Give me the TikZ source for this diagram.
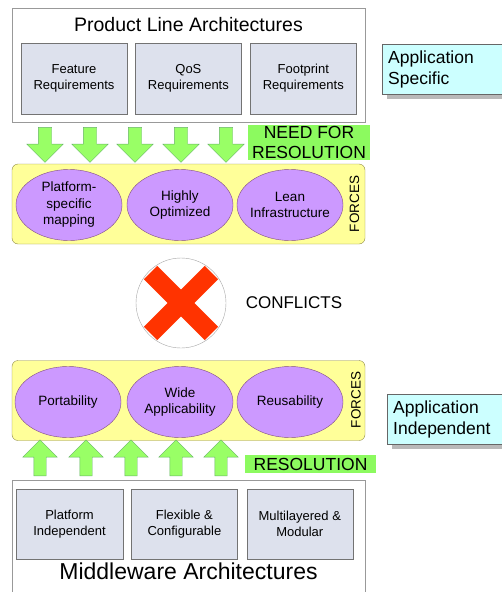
\documentclass[tikz,border=0pt]{standalone}
\usepackage{fontspec}
\setmainfont{Liberation Sans}
\usetikzlibrary{shapes.geometric,shapes.arrows,shadows,positioning}
\definecolor{myreqblue}{RGB}{221,225,237}
\definecolor{myyellow}{RGB}{255,255,153}
\definecolor{mypurple}{RGB}{204,153,255}
\definecolor{mygreen}{RGB}{153,255,102}
\definecolor{mytaggreen}{RGB}{140,250,95}
\definecolor{myred}{RGB}{255,51,0}
\definecolor{mycyan}{RGB}{204,255,255}

\begin{document}
\begin{tikzpicture}[
  x=1pt, y=-1pt,
  myouter/.style={
    draw=gray!80,
    fill=white,
    minimum width=353pt,
    inner sep=0pt
    },
  myreq/.style={
    draw=gray!90!black,
    fill=myreqblue,
    minimum width=106pt,
    minimum height=71pt,
    inner sep=0pt,
    align=center,
    font=\fontsize{13}{16}\selectfont
    },
  myforces/.style={
    draw=olive!50!gray,
    fill=myyellow,
    rounded corners=6pt,
    minimum width=353pt,
    minimum height=80pt
    },
  myforce/.style={
    ellipse,
    draw=violet!40!gray,
    fill=mypurple,
    minimum width=106pt,
    minimum height=71pt,
    inner xsep=-6pt,
    inner ysep=0pt,
    align=center,
    font=\fontsize{13.5}{16.5}\selectfont
    },
  mydown/.style={
    single arrow,
    shape border rotate=270,
    draw=green!50!black!60,
    fill=mygreen,
    minimum height=35pt,
    inner xsep=6.5pt,
    inner ysep=0pt,
    single arrow head extend=11.5pt
    },
  myup/.style={
    mydown,
    shape border rotate=90,
    minimum height=36pt,
    inner xsep=6pt,
    single arrow head extend=11pt
    },
  mytag/.style={
    fill=mytaggreen,
    inner sep=0pt,
    align=center,
    font=\fontsize{17.5}{20.5}\selectfont
    },
  myapp/.style={
    draw=gray!80!black,
    fill=mycyan,
    anchor=north west,
    minimum width=130pt,
    minimum height=50pt,
    text width=118pt,
    inner xsep=6pt,
    align=left,
    font=\fontsize{17.5}{21}\selectfont,
    drop shadow={shadow xshift=5pt, shadow yshift=-5pt, fill=gray!55, opacity=1}
    },
  mylabel/.style={
    rotate=90,
    font=\fontsize{13.5}{16}\selectfont
    },
  myx/.style={
    draw=myred,
    line width=19pt,
    shorten <=2pt,
    shorten >=2pt
    }
]
\useasboundingbox (0,0) rectangle (501,592);

% product line side
\node [myouter, minimum height=114pt] (pla) at (188.5,65) {};
\node [font=\fontsize{19.5}{22}\selectfont] (platitle) at (188.5,25) {Product Line Architectures};
\node [myreq] (feat) at (74,78.5) {Feature\\Requirements};
\node [myreq, right=8pt of feat] (qos) {QoS\\Requirements};
\node [myreq, right=8.5pt of qos] (foot) {Footprint\\Requirements};

\node [mydown] (d1) at (45,141.5) {};
\node [mydown] (d2) at (90,141.5) {};
\node [mydown] (d3) at (135,141.5) {};
\node [mydown] (d4) at (181,141.5) {};
\node [mydown] (d5) at (226,141.5) {};
\node [mytag, minimum width=122pt, minimum height=35pt] (need) at (309,142.5) {NEED FOR\\RESOLUTION};

\node [myforces] (topforces) at (188.5,204) {};
\node [myforce] (pfm) at (69,205) {Platform-\\specific\\mapping};
\node [myforce] (hopt) at (180,205) {Highly\\Optimized};
\node [myforce] (lean) at (290,205) {Lean\\Infrastructure};
\node [mylabel] (topforceslbl) at (354.5,204) {FORCES};

% conflicts
\node [circle, draw=gray!70, fill=white, minimum size=90pt, inner sep=0pt, outer sep=0pt] (nox) at (181,303) {};
\draw [myx] (nox.north west) -- (nox.south east);
\draw [myx] (nox.north east) -- (nox.south west);
\node [font=\fontsize{17}{20}\selectfont] (conflicts) at (294,303) {CONFLICTS};

% middleware side
\node [myforces] (botforces) at (188.5,400.5) {};
\node [myforce] (port) at (68,402) {Portability};
\node [myforce] (wide) at (180,402) {Wide\\Applicability};
\node [myforce] (reuse) at (290,402) {Reusability};
\node [mylabel] (botforceslbl) at (356,400) {FORCES};

\node [myup] (u1) at (40,461) {};
\node [myup] (u2) at (86,461) {};
\node [myup] (u3) at (131,461) {};
\node [myup] (u4) at (176,461) {};
\node [myup] (u5) at (221,461) {};
\node [mytag, minimum width=131pt, minimum height=18pt] (res) at (310.5,464) {RESOLUTION};

\node [myouter, minimum height=120pt] (mw) at (189,540) {};
\node [myreq, minimum width=107pt, minimum height=70pt] (pind) at (69.5,524) {Platform\\Independent};
\node [myreq, minimum height=70pt, right=8pt of pind] (flex) {Flexible \&\\Configurable};
\node [myreq, minimum height=70pt, right=9pt of flex] (multi) {Multilayered \&\\Modular};
\node [font=\fontsize{23}{26}\selectfont] (mwtitle) at (188.5,571) {Middleware Architectures};

% side notes
\node [myapp] (appspec) at (382,44) {Application\\Specific};
\node [myapp] (appind) at (387,394) {Application\\Independent};
\end{tikzpicture}
\end{document}
